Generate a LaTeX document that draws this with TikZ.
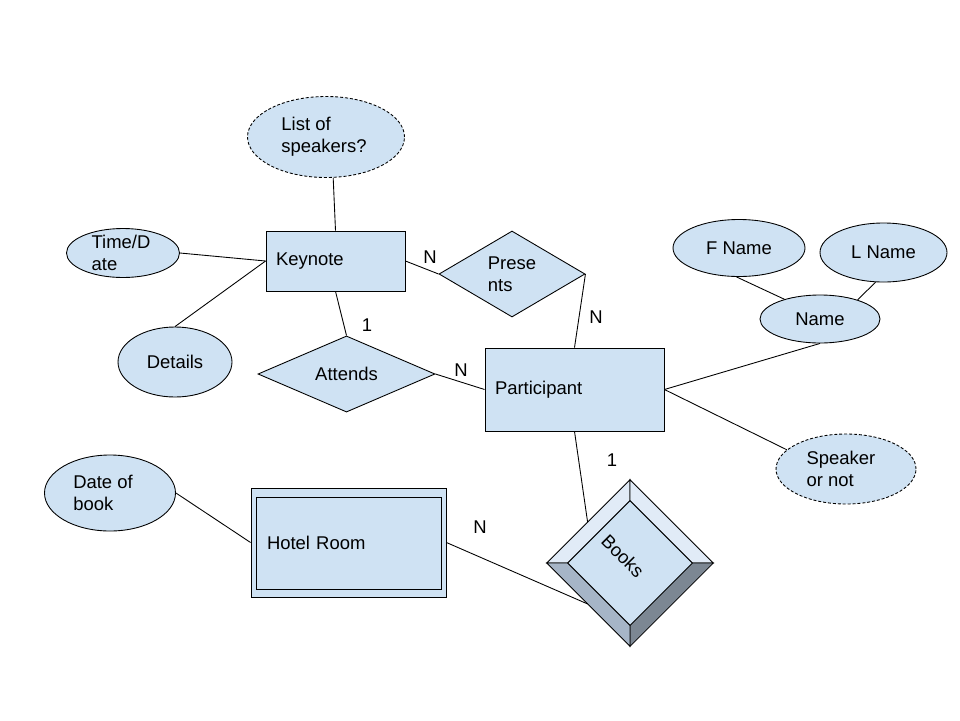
\documentclass[tikz,border=0pt]{standalone}
\usepackage{fontspec}
\setmainfont{Liberation Sans}
\usetikzlibrary{shapes.geometric}
\definecolor{erblue}{HTML}{CFE2F3}
\definecolor{bevellight}{HTML}{E1EBF7}
\definecolor{bevelmid}{HTML}{A6B5C7}
\definecolor{beveldark}{HTML}{7C8793}

\begin{document}
\begin{tikzpicture}[
		every node/.style={font=\fontsize{10.5}{12.5}\selectfont},
		entity/.style={rectangle,draw,fill=erblue,line width=0.5pt,align=left,inner xsep=0.2cm},
		attrib/.style={ellipse,draw,fill=erblue,line width=0.5pt,inner sep=0pt},
		dashedattr/.style={attrib,dash pattern=on 1.7pt off 1.1pt},
		relation/.style={diamond,draw,fill=erblue,line width=0.5pt,inner sep=0pt,align=left},
		conn/.style={line width=0.5pt}]
				\useasboundingbox (0,0) rectangle (19.2,-14.4);
				% Entitaeten
				\node[entity,text width=2.38cm,minimum height=1.2cm] (keynote) at (6.71,-5.22) {Keynote};
				\node[entity,text width=3.18cm,minimum height=1.66cm] (participant) at (11.49,-7.79) {Participant};
				\node[entity,inner xsep=0.32cm,text width=3.26cm,minimum height=2.18cm] (hotel) at (6.97,-10.85) {Hotel Room};
				\draw[line width=0.5pt] ([shift={(0.11,-0.2)}]hotel.north west) rectangle ([shift={(-0.1,0.17)}]hotel.south east);
				% Attribute
				\node[dashedattr,minimum width=3.14cm,minimum height=1.62cm,label={[align=left,xshift=-0.04cm]center:{List of\\speakers?}}] (speakers) at (6.52,-2.74) {};
				\node[attrib,minimum width=2.26cm,minimum height=0.98cm,label={[align=left,xshift=-0.04cm]center:{Time/D\\ate}}] (timedate) at (2.46,-5.06) {};
				\node[attrib,minimum width=2.28cm,minimum height=1.4cm,label={center:Details}] (details) at (3.5,-7.24) {};
				\node[attrib,minimum width=2.64cm,minimum height=1.14cm,label={center:F Name}] (fname) at (14.78,-4.96) {};
				\node[attrib,minimum width=2.54cm,minimum height=1.18cm,label={center:L Name}] (lname) at (17.67,-5.05) {};
				\node[attrib,minimum width=2.4cm,minimum height=0.96cm,label={center:Name}] (nameattr) at (16.4,-6.38) {};
				\node[dashedattr,minimum width=2.8cm,minimum height=1.4cm,label={[align=left,xshift=-0.1cm]center:{Speaker\\or not}}] (speaker) at (16.92,-9.38) {};
				\node[attrib,minimum width=2.62cm,minimum height=1.52cm,label={[align=left,xshift=-0.14cm]center:{Date of\\book}}] (dateofbook) at (2.2,-9.86) {};
				% Beziehungen
				\node[relation,minimum width=2.92cm,minimum height=1.72cm] (presents) at (10.24,-5.48) {Prese\\nts};
				\node[relation,minimum width=3.54cm,minimum height=1.44cm] (attends) at (6.93,-7.48) {Attends};
				% Books als Raute mit Fase
				\node[diamond,minimum width=3.32cm,minimum height=3.32cm,inner sep=0pt] (books) at (12.6,-11.26) {};
				\filldraw[fill=bevellight,line width=0.5pt] (books.west) -- (books.north) -- ([yshift=-0.42cm]books.north) -- ([xshift=0.42cm]books.west) -- cycle;
				\filldraw[fill=bevellight,line width=0.5pt] (books.north) -- (books.east) -- ([xshift=-0.42cm]books.east) -- ([yshift=-0.42cm]books.north) -- cycle;
				\filldraw[fill=beveldark,line width=0.5pt] (books.east) -- (books.south) -- ([yshift=0.42cm]books.south) -- ([xshift=-0.42cm]books.east) -- cycle;
				\filldraw[fill=bevelmid,line width=0.5pt] (books.south) -- (books.west) -- ([xshift=0.42cm]books.west) -- ([yshift=0.42cm]books.south) -- cycle;
				\filldraw[fill=erblue,line width=0.5pt] ([yshift=-0.42cm]books.north) -- ([xshift=-0.42cm]books.east) -- ([yshift=0.42cm]books.south) -- ([xshift=0.42cm]books.west) -- cycle;
				\node[rotate=-45] (bookstext) at (12.46,-11.12) {Books};
				% Verbindungen
				\draw[conn] (speakers.-80) -- (keynote.north);
				\draw[conn] (timedate.east) -- (keynote.west);
				\draw[conn] (details.north) -- (keynote.west);
				\draw[conn] (keynote.east) -- (presents.west);
				\draw[conn] (presents.east) -- (participant.north);
				\draw[conn] (keynote.south) -- (attends.north);
				\draw[conn] (attends.east) -- (participant.west);
				\draw[conn] (participant.east) -- (nameattr.south);
				\draw[conn] (nameattr.151) -- (fname.-95);
				\draw[conn] (nameattr.27) -- (lname.-105);
				\draw[conn] (participant.east) -- (speaker.162);
				\draw[conn] (participant.south) -- (books.136);
				\draw[conn] (dateofbook.east) -- (hotel.west);
				\draw[conn] (hotel.east) -- (books.224);
				% Kardinalitaeten
				\node (nkp) at (8.6,-5.14) {N};
				\node (npp) at (11.92,-6.34) {N};
				\node (oneka) at (7.34,-6.5) {1};
				\node (nap) at (9.22,-7.4) {N};
				\node (onepb) at (12.24,-9.2) {1};
				\node (nhb) at (9.6,-10.54) {N};
			\end{tikzpicture}
\end{document}
